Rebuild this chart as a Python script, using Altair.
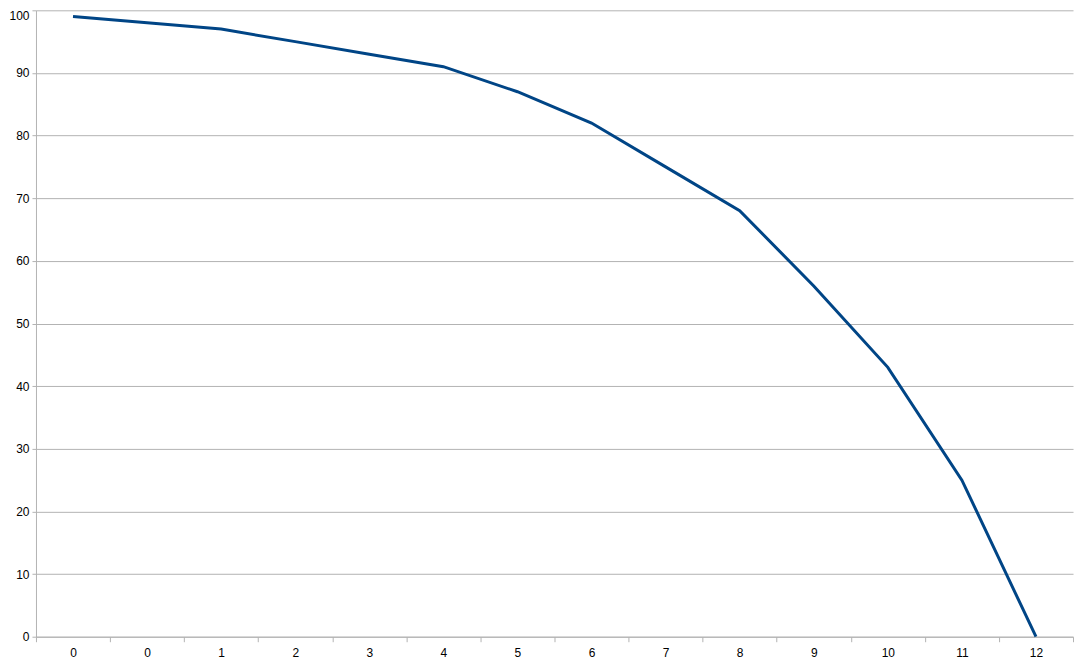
import altair as alt
import pandas as pd

categories = ["0", "0", "1", "2", "3", "4", "5", "6", "7", "8", "9", "10", "11", "12"]
values = [99, 98, 97, 95, 93, 91, 87, 82, 75, 68, 56, 43, 25, 0]
y_ticks = [0, 10, 20, 30, 40, 50, 60, 70, 80, 90, 100]

df = pd.DataFrame({"idx": list(range(len(categories))), "label": categories, "value": values})

label_expr = "[" + ",".join("'" + c + "'" for c in categories) + "][datum.value]"

chart = alt.Chart(df).mark_line(color="#004586", strokeWidth=3).encode(
    x=alt.X(
        "idx:O",
        title=None,
        scale=alt.Scale(paddingInner=0, paddingOuter=0),
        axis=alt.Axis(
            labelExpr=label_expr,
            labelAngle=0,
            tickBand="extent",
            tickSize=5,
            tickColor="#b3b3b3",
            domainColor="#b3b3b3",
            grid=False,
            labelFont="Liberation Sans",
            labelFontSize=12,
            labelColor="#000000",
            labelPadding=6,
        ),
    ),
    y=alt.Y(
        "value:Q",
        title=None,
        scale=alt.Scale(domain=[0, 100], nice=False),
        axis=alt.Axis(
            values=y_ticks,
            tickSize=4,
            tickColor="#b3b3b3",
            domainColor="#b3b3b3",
            gridColor="#b3b3b3",
            labelFont="Liberation Sans",
            labelFontSize=12,
            labelColor="#000000",
            labelPadding=3,
            labelOffset={"condition": {"test": "datum.value == 100", "value": 5}, "value": 0},
        ),
    ),
).properties(
    width=1038,
    height=627,
    autosize=alt.AutoSizeParams(type="none"),
    padding={"left": 28, "top": 2, "right": 2, "bottom": 22},
).configure_view(stroke=None).configure_axis(domainWidth=1, gridWidth=1, tickWidth=1)

chart.save("out.html", embed_options={"renderer": "svg", "actions": False})
